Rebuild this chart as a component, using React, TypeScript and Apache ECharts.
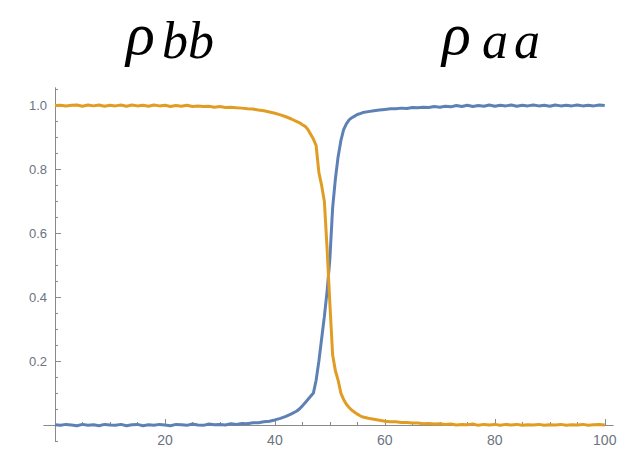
import React, { useEffect, useRef } from "react";
import * as echarts from "echarts";

const xs = [
  0, 1, 2, 3, 4, 5, 6, 7, 8, 9, 10, 11, 12, 13, 14, 15, 16, 17, 18, 19, 20, 21,
  22, 23, 24, 25, 26, 27, 28, 29, 30, 31, 32, 33, 34, 35, 36, 37, 38, 39, 40,
  41, 42, 43, 44, 44.5, 45, 45.5, 46, 46.5, 47, 47.5, 48, 48.5, 49, 49.5, 50,
  50.5, 51, 51.5, 52, 52.5, 53, 53.5, 54, 54.5, 55, 55.5, 56, 57, 58, 59, 60,
  61, 62, 63, 64, 65, 66, 67, 68, 69, 70, 71, 72, 73, 74, 75, 76, 77, 78, 79,
  80, 81, 82, 83, 84, 85, 86, 87, 88, 89, 90, 91, 92, 93, 94, 95, 96, 97, 98,
  99, 100,
];

// rho_aa (blue, rising)
const rhoAA = [
  0.001, -0.001, 0.002, 0.0, -0.002, 0.002, -0.001, 0.001, -0.002, 0.002, 0.0,
  -0.001, 0.002, -0.002, 0.001, 0.002, -0.002, 0.001, -0.001, 0.002, 0.0,
  -0.002, 0.002, 0.001, -0.001, 0.003, 0.0, -0.001, 0.003, 0.001, 0.002,
  0.0, 0.004, 0.002, 0.005, 0.004, 0.007, 0.007, 0.01, 0.012, 0.016,
  0.021, 0.027, 0.035,
  0.044, 0.051, 0.06, 0.07, 0.08, 0.09, 0.1, 0.14, 0.2, 0.27, 0.34, 0.42,
  0.52, 0.68, 0.77, 0.84, 0.89, 0.925, 0.943, 0.955, 0.962, 0.967, 0.972,
  0.975, 0.978,
  0.981, 0.984, 0.986, 0.988, 0.99, 0.99, 0.992, 0.991, 0.994, 0.993, 0.995,
  0.994, 0.997, 0.995, 0.998, 0.996, 1.0, 0.997, 1.001, 0.997, 1.0, 0.998,
  1.002, 0.998, 1.001, 0.999, 1.002, 0.998, 1.001, 0.999, 1.002, 0.999, 1.001,
  0.998, 1.002, 0.999, 1.001, 0.999, 1.002, 0.999, 1.001, 0.999, 1.002, 1.0,
];

// rho_bb (orange, falling)
const rhoBB = [
  1.0, 1.001, 0.999, 1.001, 1.002, 0.998, 1.002, 0.999, 1.002, 0.998, 1.001,
  0.999, 1.002, 0.998, 1.002, 0.999, 1.001, 0.998, 1.002, 0.999, 1.001, 0.997,
  1.0, 0.998, 1.001, 0.997, 0.999, 0.997, 0.998, 0.995, 0.997, 0.994, 0.995,
  0.993, 0.992, 0.99, 0.989, 0.986, 0.984, 0.98, 0.976, 0.971, 0.965, 0.958,
  0.95, 0.946, 0.94, 0.935, 0.925, 0.91, 0.895, 0.875, 0.79, 0.75, 0.7, 0.55,
  0.38, 0.22, 0.17, 0.14, 0.1, 0.08, 0.065, 0.055, 0.046, 0.04, 0.034, 0.029,
  0.025,
  0.021, 0.018, 0.015, 0.012, 0.01, 0.01, 0.008, 0.008, 0.006, 0.006, 0.004,
  0.005, 0.003, 0.004, 0.002, 0.003, 0.0, 0.002, 0.001, 0.003, -0.001, 0.002,
  0.0, 0.002, -0.001, 0.002, 0.0, 0.002, -0.001, 0.001, 0.0, 0.002,
  -0.001, 0.001, 0.0, 0.002, -0.001, 0.001, 0.0, 0.002, -0.001, 0.001,
  0.002, 0.0,
];

const xMajor = [20, 40, 60, 80, 100];
const xMinor = [5, 10, 15, 25, 30, 35, 45, 50, 55, 65, 70, 75, 85, 90, 95];
const yMajor = [0.2, 0.4, 0.6, 0.8, 1.0];
const yMinor = [
  -0.05, 0.05, 0.1, 0.15, 0.25, 0.3, 0.35, 0.45, 0.5, 0.55, 0.65, 0.7, 0.75,
  0.85, 0.9, 0.95, 1.05,
];

const BLUE = "#5E81B5";
const ORANGE = "#E19C24";
const AXIS = "#8a8a8a";
const LABEL = "#6b7480";

const titleStyle = (text: string, fontSize: number) => ({
  text,
  fontFamily: "Liberation Serif",
  fontStyle: "italic",
  fontSize,
  fill: "#000",
});

export default function App() {
  const ref = useRef<HTMLDivElement>(null);
  useEffect(() => {
    if (!ref.current) return;
    const chart = echarts.init(ref.current, undefined, { renderer: "svg" });
    const xBase = {
      type: "value",
      min: -2,
      max: 101.5,
      position: "bottom",
      axisLine: { onZero: true, lineStyle: { color: AXIS, width: 1 } },
      splitLine: { show: false },
    };
    const yBase = {
      type: "value",
      min: -0.05,
      max: 1.055,
      position: "left",
      axisLine: { onZero: true, lineStyle: { color: AXIS, width: 1 } },
      splitLine: { show: false },
    };
    chart.setOption({
      animation: false,
      backgroundColor: "#ffffff",
      grid: {
        left: 44,
        right: 22,
        top: 88,
        bottom: 11,
        containLabel: false,
        outerBoundsMode: "none",
      },
      xAxis: [
        {
          ...xBase,
          axisTick: {
            show: true,
            inside: true,
            length: 6,
            customValues: xMajor,
            lineStyle: { color: AXIS },
          },
          axisLabel: {
            show: true,
            customValues: xMajor,
            color: LABEL,
            fontSize: 14,
            fontFamily: "Liberation Sans",
            margin: -8,
          },
        },
        {
          ...xBase,
          axisTick: {
            show: true,
            inside: true,
            length: 3,
            customValues: xMinor,
            lineStyle: { color: AXIS },
          },
          axisLabel: { show: false },
        },
      ],
      yAxis: [
        {
          ...yBase,
          axisTick: {
            show: true,
            inside: true,
            length: 6,
            customValues: yMajor,
            lineStyle: { color: AXIS },
          },
          axisLabel: {
            show: true,
            customValues: yMajor,
            color: LABEL,
            fontSize: 13,
            fontFamily: "Liberation Sans",
            margin: -3,
            formatter: (v: number) => v.toFixed(1),
          },
        },
        {
          ...yBase,
          axisTick: {
            show: true,
            inside: true,
            length: 3,
            customValues: yMinor,
            lineStyle: { color: AXIS },
          },
          axisLabel: { show: false },
        },
      ],
      series: [
        {
          name: "ρaa",
          type: "line",
          xAxisIndex: 0,
          yAxisIndex: 0,
          showSymbol: false,
          lineStyle: { color: BLUE, width: 3 },
          itemStyle: { color: BLUE },
          data: xs.map((x, i) => [x, rhoAA[i]]),
        },
        {
          name: "ρbb",
          type: "line",
          xAxisIndex: 0,
          yAxisIndex: 0,
          showSymbol: false,
          lineStyle: { color: ORANGE, width: 3 },
          itemStyle: { color: ORANGE },
          data: xs.map((x, i) => [x, rhoBB[i]]),
        },
      ],
      graphic: [
        { type: "text", left: 126, top: 4, style: titleStyle("ρ", 60) },
        { type: "text", left: 162, top: 14, style: titleStyle("b", 52) },
        { type: "text", left: 188, top: 14, style: titleStyle("b", 52) },
        { type: "text", left: 442, top: 4, style: titleStyle("ρ", 60) },
        { type: "text", left: 482, top: 14, style: titleStyle("a", 52) },
        { type: "text", left: 514, top: 14, style: titleStyle("a", 52) },
      ],
    });
    return () => chart.dispose();
  }, []);
  return (
    <div
      ref={ref}
      style={{ position: "fixed", left: 0, top: 0, width: 635, height: 452 }}
    />
  );
}
